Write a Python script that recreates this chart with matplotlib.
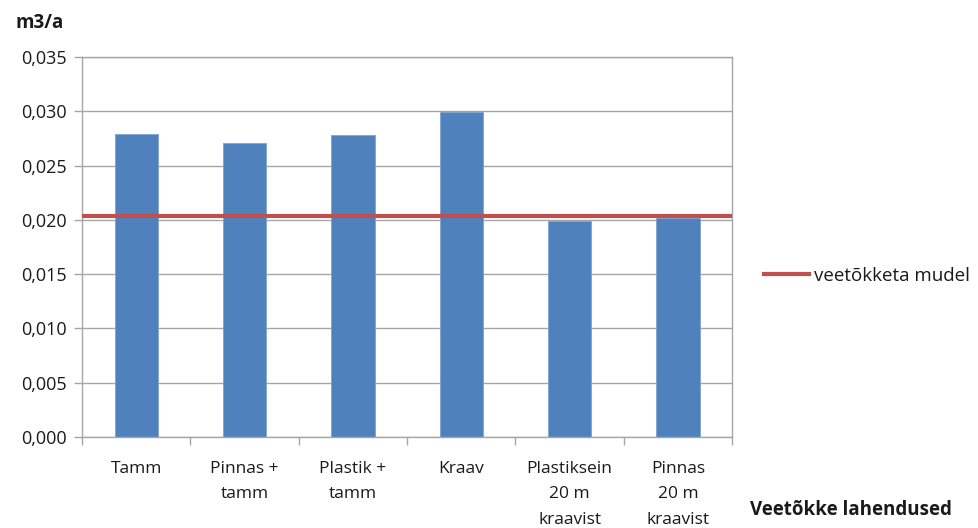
import matplotlib; matplotlib.use("Agg")
import matplotlib.pyplot as plt
from matplotlib.ticker import FuncFormatter, FixedLocator
import numpy as np

# andmed
LAHENDUSED = ["Tamm", "Pinnas +\ntamm", "Plastik +\ntamm", "Kraav",
              "Plastiksein\n20 m\nkraavist", "Pinnas\n20 m\nkraavist"]
VOOLUHULK = [0.0279, 0.0271, 0.0278, 0.0299, 0.0199, 0.0202]
MUDEL = 0.0204  # veetõkketa mudel

BAR = "#4F81BD"; RED = "#C0504D"; GRID = "#A6A6A6"; TXT = "#1a1a1a"
plt.rcParams["font.family"] = ["Open Sans", "DejaVu Sans"]

fig = plt.figure(figsize=(9.79, 5.28), dpi=100)
ax = fig.add_axes([0.0838, 0.1723, 0.664, 0.7197])

x = np.arange(len(LAHENDUSED))
ax.bar(x, VOOLUHULK, width=0.4, color=BAR, edgecolor="#7fa3d1", lw=0.6, zorder=2)
ax.axhline(MUDEL, color=RED, lw=3.0, zorder=3, label="veetõkketa mudel")

ax.set_xlim(-0.5, len(LAHENDUSED) - 0.5)
ax.set_ylim(0, 0.035)
ax.set_yticks(np.arange(0, 0.0351, 0.005))
ax.yaxis.set_major_formatter(FuncFormatter(lambda v, p: f"{v:.3f}".replace(".", ",")))
ax.grid(axis="y", color=GRID, lw=1.0, zorder=0)
ax.set_axisbelow(True)

ax.set_xticks(x)
ax.set_xticklabels(LAHENDUSED, fontsize=12.5, color=TXT, linespacing=1.8, va="top")
ax.tick_params(axis="x", which="major", length=0, pad=17)
ax.xaxis.set_minor_locator(FixedLocator(np.arange(-0.5, len(LAHENDUSED), 1.0)))
ax.tick_params(axis="x", which="minor", length=6, color=GRID, width=1.0)
ax.tick_params(axis="y", length=6, color=GRID, width=1.0, labelsize=13, labelcolor=TXT, pad=5)
for s in ax.spines.values():
    s.set_color(GRID); s.set_linewidth(1.0)

fig.text(0.016, 0.956, "m3/a", fontsize=13.5, weight="bold", color=TXT, ha="left", va="center")
fig.text(0.766, 0.034, "Veetõkke lahendused", fontsize=13.5, weight="bold", color=TXT, ha="left", va="center")

ax.legend(loc="center left", bbox_to_anchor=(1.038, 0.425), frameon=False, fontsize=13.5,
          handlelength=2.4, handletextpad=0.25, labelcolor=TXT, borderaxespad=0)

fig.savefig("out.png", facecolor="white")
